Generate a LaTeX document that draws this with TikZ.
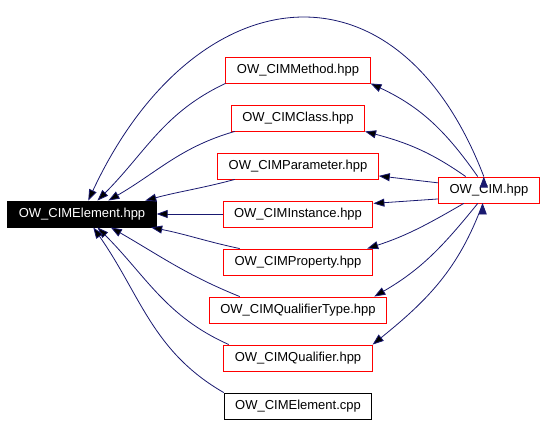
\documentclass[tikz,border=0pt]{standalone}
\usepackage{fontspec}
\setmainfont{Liberation Sans}
\usetikzlibrary{arrows.meta,positioning}
\definecolor{edgeblue}{HTML}{191970}

\begin{document}
\begin{tikzpicture}[>={Triangle[length=11pt,width=8pt]},x=1pt,y=1pt,node distance=48pt,
    file node/.style={draw=red,line width=0.9pt,minimum height=26pt,inner xsep=11pt,inner ysep=0pt,font=\fontsize{13}{15}\selectfont},
    main node/.style={file node,draw=black,fill=black,text=white},
    dep/.style={->,draw=edgeblue,line width=0.8pt}]
    \useasboundingbox (0,0) rectangle (547,424);
    \node[main node] (elem) at (82,210) {OW\_CIMElement.hpp};
    \node[file node] (method) at (298,354) {OW\_CIMMethod.hpp};
    \node[file node] (class) [below of=method] {OW\_CIMClass.hpp};
    \node[file node] (param) [below of=class] {OW\_CIMParameter.hpp};
    \node[file node] (inst) [below of=param] {OW\_CIMInstance.hpp};
    \node[file node] (prop) [below of=inst] {OW\_CIMProperty.hpp};
    \node[file node] (qtype) [below of=prop] {OW\_CIMQualifierType.hpp};
    \node[file node] (qual) [below of=qtype] {OW\_CIMQualifier.hpp};
    \node[file node,draw=black] (cpp) [below of=qual] {OW\_CIMElement.cpp};
    \node[file node] (cim) at (489,234) {OW\_CIM.hpp};

    % included by OW_CIMElement.hpp
    \path[dep]
        (method.south west) edge[out=205,in=45] (elem.41)
        (class.192) edge[out=196,in=30] (elem.27)
        (param.192) edge[out=195,in=15] (elem.12)
        (inst.west) edge (elem.east)
        (prop.167) edge[out=168,in=-11] (elem.-11)
        (qtype.167) edge[out=158,in=-30] (elem.-25)
        (qual.169) edge[out=156,in=-45] (elem.-41)
        (cpp.north west) edge[out=150,in=-55] (elem.-50)
        (cim.111) edge[out=111,in=65,looseness=1.59] (elem.65)
        ;

    % included by OW_CIM.hpp
    \path[dep]
        (cim.130) edge[out=125,in=-25] (method.south east)
        (cim.150) edge[out=145,in=-15] (class.south east)
        (cim.172) edge (param.-7)
        (cim.190) edge (inst.8)
        (cim.208) edge[out=210,in=18] (prop.11)
        (cim.230) edge[out=231,in=30] (qtype.10)
        (cim.245) edge[out=250,in=39] (qual.north east)
        ;
\end{tikzpicture}
\end{document}
